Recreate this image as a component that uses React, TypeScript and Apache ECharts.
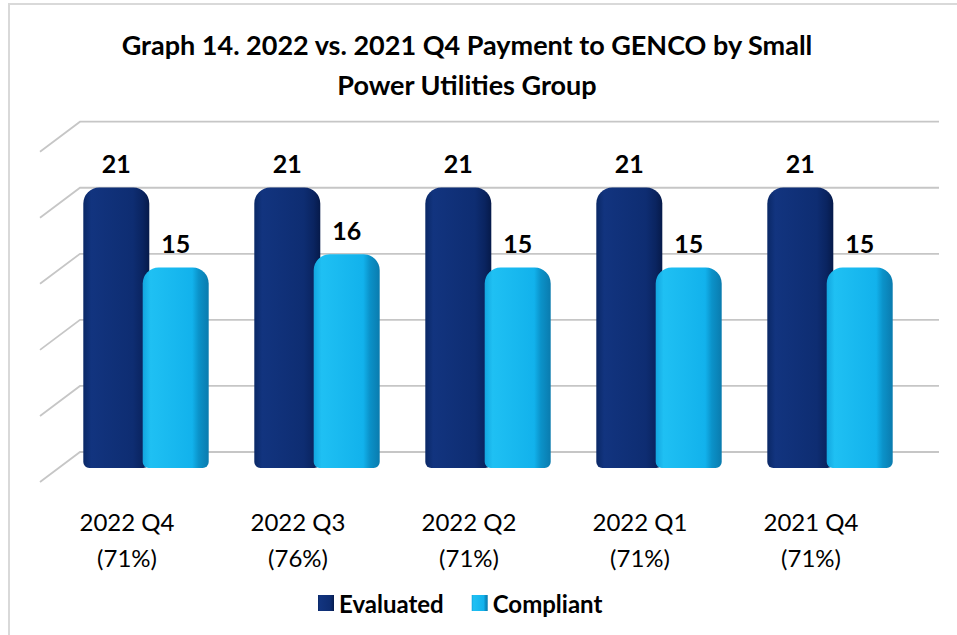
import React, { useEffect, useRef } from "react";
import * as echarts from "echarts";

const categories = ["2022 Q4", "2022 Q3", "2022 Q2", "2022 Q1", "2021 Q4"];
const percents = ["71%", "76%", "71%", "71%", "71%"];
const evaluated = [21, 21, 21, 21, 21];
const compliant = [15, 16, 15, 15, 15];
const ticks = [0, 5, 10, 15, 20, 25];
const titleText = "Graph 14. 2022 vs. 2021 Q4 Payment to GENCO by Small\nPower Utilities Group";

const FONT = "Lato, 'Noto Sans', sans-serif";

const darkGrad = new echarts.graphic.LinearGradient(0, 0, 1, 0, [
  { offset: 0, color: "#0a2866" },
  { offset: 0.12, color: "#12347f" },
  { offset: 0.75, color: "#0e2d72" },
  { offset: 0.9, color: "#0a2460" },
  { offset: 1, color: "#061a4a" },
]);
const lightGrad = new echarts.graphic.LinearGradient(0, 0, 1, 0, [
  { offset: 0, color: "#13a6df" },
  { offset: 0.12, color: "#1fc0f3" },
  { offset: 0.75, color: "#12b2ec" },
  { offset: 0.85, color: "#0b92c9" },
  { offset: 1, color: "#0a7bae" },
]);

export default function App() {
  const ref = useRef<HTMLDivElement>(null);
  useEffect(() => {
    if (!ref.current) return;
    const chart = echarts.init(ref.current, undefined, { renderer: "svg" });
    chart.setOption({
      animation: false,
      backgroundColor: "#ffffff",
      textStyle: { fontFamily: FONT },
      title: {
        text: titleText,
        left: 462,
        top: 19,
        textAlign: "center",
        textStyle: {
          fontFamily: FONT,
          fontSize: 27,
          fontWeight: "bold",
          color: "#000",
          lineHeight: 40,
        },
      },
      legend: {
        data: ["Evaluated", "Compliant"],
        left: 313,
        top: 586,
        icon: "rect",
        itemWidth: 16,
        itemHeight: 16,
        itemGap: 28,
        textStyle: { fontFamily: FONT, fontSize: 24, fontWeight: "bold", color: "#000" },
      },
      graphic: [
        {
          type: "rect",
          silent: true,
          z: -10,
          shape: { x: 9, y: 4, width: 1000, height: 700 },
          style: { fill: "none", stroke: "#d9d9d9", lineWidth: 2 },
        },
      ],
      grid: [
        { left: 60.5, width: 855, top: 134, height: 334 },
        { left: 80, width: 859, top: 121.7, height: 330.3 },
      ],
      xAxis: [
        {
          type: "category",
          gridIndex: 0,
          data: categories,
          axisLine: { show: false },
          axisTick: { show: false },
          axisLabel: {
            margin: 35,
            fontFamily: FONT,
            fontSize: 24,
            color: "#000",
            lineHeight: 36,
            padding: [0, 38, 0, 0],
            formatter: (v: string, i: number) => `${v}\n(${percents[i]})`,
          },
        },
        { type: "value", gridIndex: 1, min: 0, max: 1, show: false },
      ],
      yAxis: [
        { type: "value", gridIndex: 0, min: 0, max: 25, interval: 5, show: false },
        { type: "value", gridIndex: 1, min: 0, max: 25, interval: 5, show: false },
      ],
      series: [
        {
          type: "custom",
          xAxisIndex: 1,
          yAxisIndex: 1,
          z: 1,
          silent: true,
          data: ticks.map((v) => [0, v]),
          renderItem: (params: any, api: any) => {
            const p = api.coord([0, api.value(1)]);
            const cs = params.coordSys;
            return {
              type: "polyline",
              shape: {
                points: [
                  [p[0] - 40, p[1] + 30],
                  [p[0], p[1]],
                  [cs.x + cs.width, p[1]],
                ],
              },
              style: { fill: "none", stroke: "#c6c6c6", lineWidth: 1.8 },
            };
          },
        },
        {
          name: "Evaluated",
          type: "bar",
          xAxisIndex: 0,
          yAxisIndex: 0,
          z: 3,
          data: evaluated,
          barWidth: 66,
          barGap: "-10%",
          itemStyle: { color: darkGrad, borderRadius: [16, 16, 6, 6] },
          label: {
            show: true,
            position: "top",
            distance: 12,
            fontFamily: FONT,
            fontSize: 25,
            fontWeight: "bold",
            color: "#000",
          },
        },
        {
          name: "Compliant",
          type: "bar",
          xAxisIndex: 0,
          yAxisIndex: 0,
          z: 4,
          data: compliant,
          barWidth: 66,
          itemStyle: { color: lightGrad, borderRadius: [16, 16, 6, 6] },
          label: {
            show: true,
            position: "top",
            distance: 12,
            fontFamily: FONT,
            fontSize: 25,
            fontWeight: "bold",
            color: "#000",
          },
        },
      ],
    });
    return () => chart.dispose();
  }, []);
  return (
    <div
      ref={ref}
      style={{ position: "fixed", left: 0, top: 0, width: 957, height: 635 }}
    />
  );
}
